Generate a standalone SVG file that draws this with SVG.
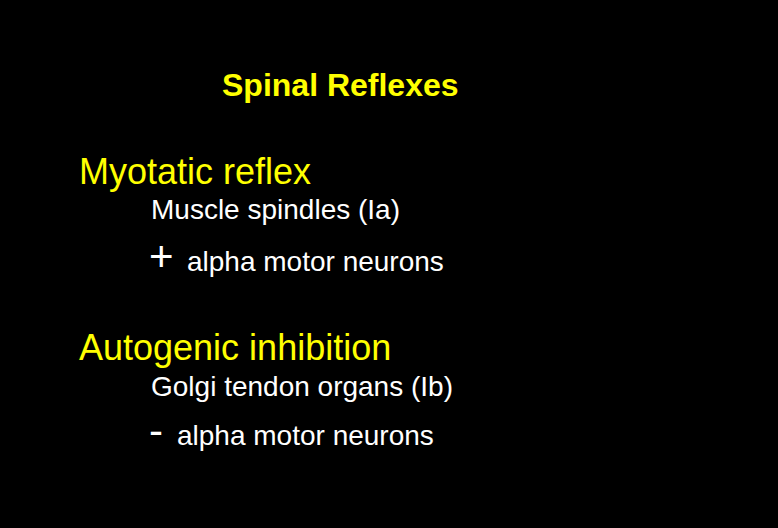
<svg xmlns="http://www.w3.org/2000/svg" width="778" height="528" viewBox="0 0 778 528">
<style>
text{font-family:"Liberation Sans",Arial,sans-serif}
.t{fill:#ffff00;font-weight:bold;font-size:32px}
.h{fill:#ffff00;font-size:36px}
.s{fill:#ffffff;font-size:28px}
.b{fill:#ffffff;font-size:42px}
</style>
<rect width="778" height="528" fill="#000"/>
<g id="title"><text class="t" x="222" y="96">Spinal Reflexes</text></g>
<g id="myotatic">
<text class="h" x="79" y="184">Myotatic reflex</text>
<text class="s" x="151" y="219">Muscle spindles (Ia)</text>
<text class="b" x="149" y="271">+</text>
<text class="s" x="187" y="271">alpha motor neurons</text>
</g>
<g id="autogenic">
<text class="h" x="79" y="360">Autogenic inhibition</text>
<text class="s" x="151" y="396">Golgi tendon organs (Ib)</text>
<text class="b" x="149" y="445">-</text>
<text class="s" x="177" y="445">alpha motor neurons</text>
</g>
</svg>
